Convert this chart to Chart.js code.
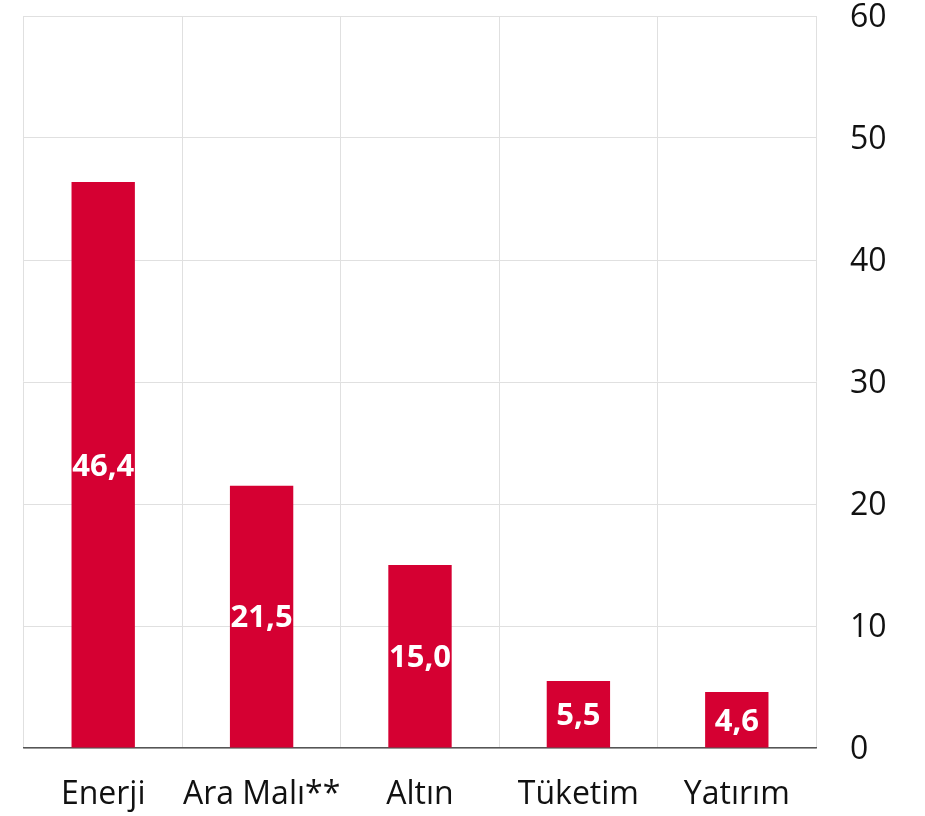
<!DOCTYPE html>
<html>
<head>
<meta charset="utf-8">
<script src="https://cdn.jsdelivr.net/npm/chart.js@4"></script>
<style>
  html, body { margin: 0; padding: 0; background: #fff; overflow: hidden; }
  canvas { display: block; }
</style>
</head>
<body>
<canvas id="myChart" width="925" height="816"></canvas>
<script>
const categories = ['Enerji', 'Ara Malı**', 'Altın', 'Tüketim', 'Yatırım'];
const values = [46.4, 21.5, 15.0, 5.5, 4.6];
const yTicks = [0, 10, 20, 30, 40, 50, 60];

// etiketleri çubukların ortasına yaz
const barLabels = {
  id: 'barLabels',
  afterDatasetsDraw(chart) {
    const c = chart.ctx;
    const meta = chart.getDatasetMeta(0);
    c.save();
    c.fillStyle = '#fff';
    c.font = 'bold 31px "Open Sans"';
    c.textAlign = 'center';
    c.textBaseline = 'middle';
    meta.data.forEach((bar, i) => {
      const mid = (bar.y + bar.base) / 2;
      c.fillText(values[i].toFixed(1).replace('.', ','), bar.x, mid + 2);
    });
    c.restore();
  }
};

const ctx = document.getElementById('myChart');
new Chart(ctx, {
  type: 'bar',
  data: {
    labels: categories,
    datasets: [{
      data: values,
      backgroundColor: '#d50032',
      categoryPercentage: 0.8,
      barPercentage: 0.5
    }]
  },
  options: {
    responsive: false,
    animation: false,
    layout: { padding: { left: 24, top: 16, right: 0, bottom: 0 } },
    plugins: {
      legend: { display: false },
      tooltip: { enabled: false }
    },
    scales: {
      x: {
        grid: { color: '#e0e0e0', offset: true, drawTicks: false },
        border: { color: '#555', width: 1.5 },
        afterFit(axis) {
          axis.height = 68;
          axis.paddingLeft = 0;
          axis.paddingRight = 0;
        },
        ticks: {
          color: '#111',
          font: { family: '"Open Sans"', size: 32 },
          padding: 28,
          maxRotation: 0,
          autoSkip: false
        }
      },
      y: {
        position: 'right',
        min: 0,
        max: 60,
        afterBuildTicks(axis) { axis.ticks = yTicks.map(v => ({ value: v })); },
        afterFit(axis) {
          axis.width = 109;
          axis.paddingTop = 0;
          axis.paddingBottom = 0;
        },
        grid: { color: '#e0e0e0', drawTicks: false },
        border: { display: false },
        ticks: {
          color: '#111',
          font: { family: '"Open Sans"', size: 32 },
          padding: 34,
          labelOffset: 2
        }
      }
    }
  },
  plugins: [barLabels]
});
</script>
</body>
</html>
